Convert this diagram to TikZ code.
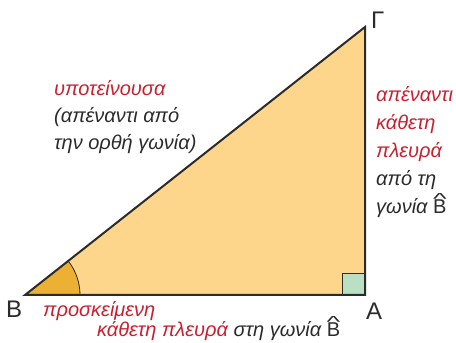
\documentclass[tikz,border=0pt]{standalone}
\usepackage{fontspec}
\setmainfont{Liberation Sans}
\definecolor{trifill}{HTML}{FDD68C}
\definecolor{angfill}{HTML}{EBB034}
\definecolor{sqfill}{HTML}{B9E0C2}
\definecolor{redtxt}{HTML}{C8202F}
\definecolor{darktxt}{HTML}{2B2B2B}
\newcommand\Bhat{{\upshape\ooalign{B\cr\hidewidth\raisebox{0.48em}{\scalebox{1.45}[0.8]{\textasciicircum}}\hidewidth\cr}}}
\begin{document}
\begin{tikzpicture}[x=1pt,y=1pt,
  vlabel/.style={font=\fontsize{24}{24}\selectfont, text=darktxt, inner sep=0pt, anchor=base west},
  rtxt/.style={font=\fontsize{20}{20}\selectfont\itshape, text=redtxt, inner sep=0pt, anchor=base west},
  dtxt/.style={font=\fontsize{20}{20}\selectfont\itshape, text=darktxt, inner sep=0pt, anchor=base west},
  side/.style={line width=2pt, draw=darktxt, line join=miter}]
\useasboundingbox (0,0) rectangle (456,343);
\coordinate (B) at (25,48);
\coordinate (A) at (365,48);
\coordinate (G) at (365,316);
\fill[trifill] (B) -- (A) -- (G) -- cycle;
\fill[angfill] (B) -- ++(55,0) arc[start angle=0,end angle=38.25,radius=55] -- cycle;
\draw[darktxt, line width=0.8pt] (B) ++(55,0) arc[start angle=0,end angle=38.25,radius=55];
\draw[darktxt, line width=0.8pt, fill=sqfill] (342,49) rectangle (364,70);
\draw[side] (B) -- (A) -- (G) -- cycle;
\node[vlabel] (lB) at (6,25) {B};
\node[vlabel] (lA) at (366,23) {A};
\node[vlabel] (lG) at (371,314) {Γ};
\node[rtxt] (h1) at (54,247) {υποτείνουσα};
\node[dtxt] (h2) at (54,220) {(απέναντι από};
\node[dtxt] (h3) at (54,193) {την ορθή γωνία)};
\node[rtxt] (r1) at (376,241) {απέναντι};
\node[rtxt] (r2) at (376,213) {κάθετη};
\node[rtxt] (r3) at (376,185) {πλευρά};
\node[dtxt] (r4) at (376,157) {από τη};
\node[dtxt] (r5) at (376,129) {γωνία \Bhat};
\node[rtxt] (b1) at (43,26) {προσκείμενη};
\node[rtxt] (b2) at (97,6) {κάθετη πλευρά \textcolor{darktxt}{στη γωνία \Bhat}};
\end{tikzpicture}
\end{document}
